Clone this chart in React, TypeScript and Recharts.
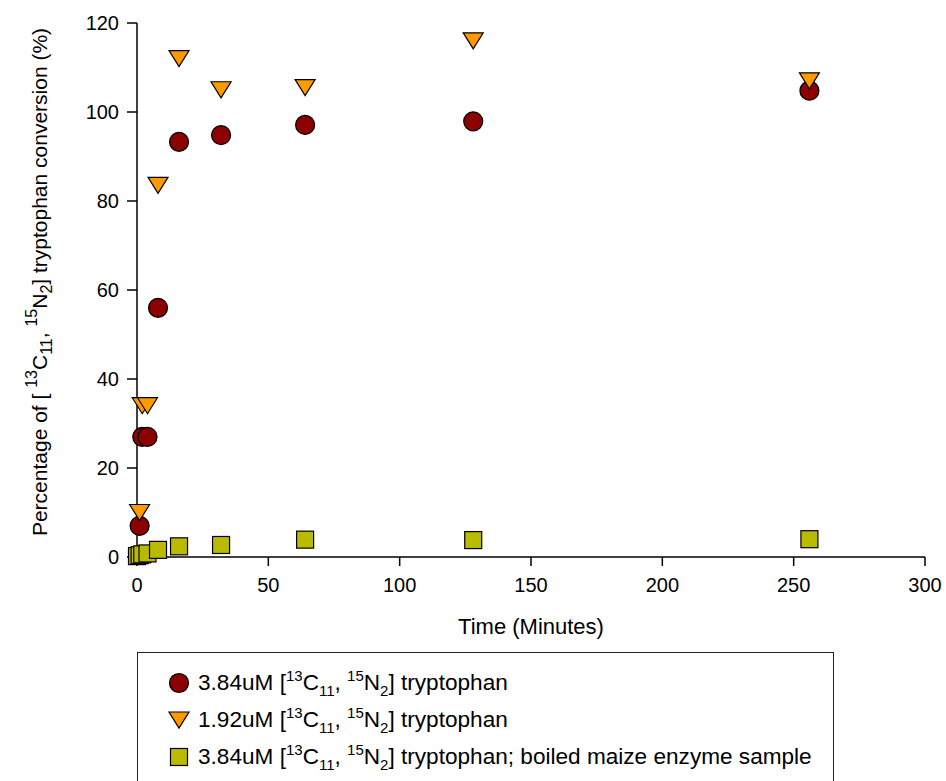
import React from 'react';
import { ScatterChart, Scatter, XAxis, YAxis, Legend } from 'recharts';

// time points (minutes) and % conversion
const minutes = [1, 2, 4, 8, 16, 32, 64, 128, 256];
const conv384 = [7, 27, 27, 56, 93.3, 94.8, 97.1, 97.9, 104.8];
const conv192 = [10, 34, 34, 83.5, 112, 105, 105.5, 116, 107];
const boiledMinutes = [0, 1, 2, 4, 8, 16, 32, 64, 128, 256];
const boiled384 = [0.2, 0.4, 0.6, 0.8, 1.6, 2.4, 2.7, 3.9, 3.8, 4.0];

const xTicks = [0, 50, 100, 150, 200, 250, 300];
const yTicks = [0, 20, 40, 60, 80, 100, 120];

const font = '"Liberation Sans", Arial, sans-serif';

const toPoints = (ts: number[], vs: number[]) => ts.map((t, i) => ({ t, v: vs[i] }));

const CircleMark = (p: any) => (
  <circle cx={p.cx} cy={p.cy} r={9.5} fill="#8B0000" stroke="#000" strokeWidth={1.2} />
);

const TriangleMark = (p: any) => (
  <polygon
    points={`${p.cx - 10},${p.cy - 8} ${p.cx + 10},${p.cy - 8} ${p.cx},${p.cy + 8}`}
    fill="#FF9900"
    stroke="#000"
    strokeWidth={1.2}
  />
);

const SquareMark = (p: any) => (
  <rect x={p.cx - 8.5} y={p.cy - 8.5} width={17} height={17} fill="#BABA00" stroke="#000" strokeWidth={1.2} />
);

const series = [
  { key: 'a', conc: '3.84uM', suffix: '', marker: 'circle' },
  { key: 'b', conc: '1.92uM', suffix: '', marker: 'triangle' },
  { key: 'c', conc: '3.84uM', suffix: '; boiled maize enzyme sample', marker: 'square' },
];

const LegendMarker = ({ type }: { type: string }) => (
  <svg width={24} height={24}>
    {type === 'circle' && <CircleMark cx={12} cy={12} />}
    {type === 'triangle' && <TriangleMark cx={12} cy={12} />}
    {type === 'square' && <SquareMark cx={12} cy={12} />}
  </svg>
);

const supStyle = { fontSize: 15, verticalAlign: 'super', lineHeight: 0 } as const;
const subStyle = { fontSize: 15, verticalAlign: 'sub', lineHeight: 0 } as const;

const renderLegend = () => (
  <div
    style={{
      boxSizing: 'border-box',
      width: 697,
      height: 140,
      border: '1.5px solid #222',
      paddingTop: 11,
      fontFamily: font,
      fontSize: 22.6,
      color: '#000',
      background: '#fff',
    }}
  >
    {series.map((s) => (
      <div key={s.key} style={{ display: 'flex', alignItems: 'center', height: 37, paddingLeft: 29 }}>
        <LegendMarker type={s.marker} />
        <span style={{ marginLeft: 7, whiteSpace: 'nowrap' }}>
          {s.conc} [<span style={supStyle}>13</span>C<span style={subStyle}>11</span>,{' '}
          <span style={supStyle}>15</span>N<span style={subStyle}>2</span>] tryptophan{s.suffix}
        </span>
      </div>
    ))}
  </div>
);

const renderYLabel = () => (
  <text
    x={47}
    y={282}
    transform="rotate(-90, 47, 282)"
    textAnchor="middle"
    fontFamily={font}
    fontSize={21}
    fill="#000"
  >
    Percentage of [ <tspan dy={-10} fontSize={16}>13</tspan>
    <tspan dy={10}>C</tspan>
    <tspan dy={5} fontSize={16}>11</tspan>
    <tspan dy={-5}>, </tspan>
    <tspan dy={-10} fontSize={16}>15</tspan>
    <tspan dy={10}>N</tspan>
    <tspan dy={5} fontSize={16}>2</tspan>
    <tspan dy={-5}>] tryptophan conversion (%)</tspan>
  </text>
);

const renderXLabel = () => (
  <text x={531} y={634} textAnchor="middle" fontFamily={font} fontSize={22} fill="#000">
    Time (Minutes)
  </text>
);

export default function App() {
  return (
    <div style={{ width: 946, height: 781, overflow: 'hidden', background: '#fff' }}>
      <style>{'html, body { margin: 0; overflow: hidden; }'}</style>
      <ScatterChart width={946} height={781} margin={{ top: 23, right: 21, left: 77, bottom: 144 }}>
        <XAxis
          type="number"
          dataKey="t"
          domain={[0, 300]}
          ticks={xTicks}
          height={80}
          tickSize={9}
          tickMargin={12}
          axisLine={{ stroke: '#000', strokeWidth: 1.5 }}
          tickLine={{ stroke: '#000', strokeWidth: 1.5 }}
          tick={{ fill: '#000', fontSize: 20, fontFamily: font }}
          label={{ content: renderXLabel }}
        />
        <YAxis
          type="number"
          dataKey="v"
          domain={[0, 120]}
          ticks={yTicks}
          width={60}
          tickSize={10}
          tickMargin={8}
          axisLine={{ stroke: '#000', strokeWidth: 1.5 }}
          tickLine={{ stroke: '#000', strokeWidth: 1.5 }}
          tick={{ fill: '#000', fontSize: 20, fontFamily: font }}
          label={{ content: renderYLabel }}
        />
        <Legend
          layout="horizontal"
          verticalAlign="middle"
          align="center"
          wrapperStyle={{ left: 137, top: 652, width: 697, height: 140, margin: 0 }}
          content={renderLegend}
        />
        <Scatter name="3.84uM" data={toPoints(minutes, conv384)} shape={CircleMark} isAnimationActive={false} />
        <Scatter name="1.92uM" data={toPoints(minutes, conv192)} shape={TriangleMark} isAnimationActive={false} />
        <Scatter
          name="3.84uM boiled"
          data={toPoints(boiledMinutes, boiled384)}
          shape={SquareMark}
          isAnimationActive={false}
        />
      </ScatterChart>
    </div>
  );
}
